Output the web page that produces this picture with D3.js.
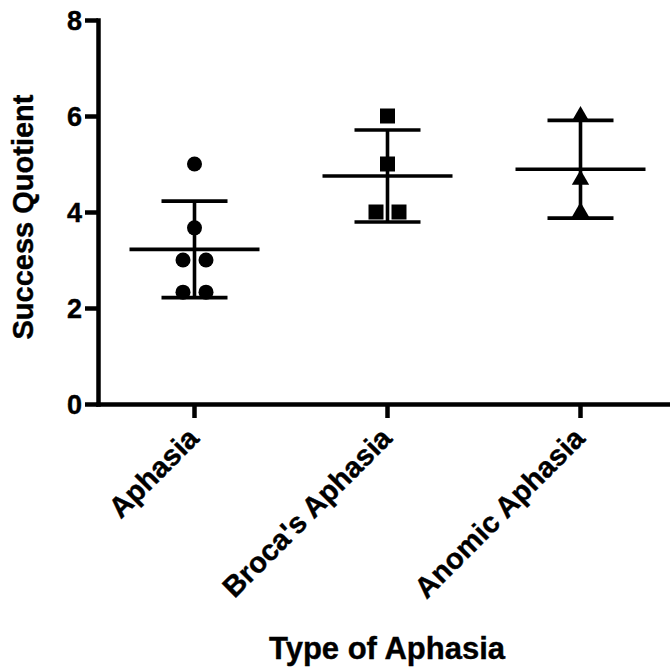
<!DOCTYPE html>
<html>
<head>
<meta charset="utf-8">
<script src="https://cdn.jsdelivr.net/npm/d3@7"></script>
<style>
  html, body { margin: 0; padding: 0; background: #fff; }
  svg { display: block; }
  text { font-family: "Liberation Sans", Arial, sans-serif; font-weight: bold; fill: #000; }
</style>
</head>
<body>
<script>
// ---- data ----
const categories = ["Aphasia", "Broca's Aphasia", "Anomic Aphasia"];
const aphasiaValues = [5.0, 3.67, 3.0, 3.0, 2.33, 2.33];
const brocaValues = [6.0, 5.0, 4.0, 4.0];
const anomicValues = [6.0, 4.67, 4.0];
const markerShapes = ["circle", "square", "triangle"];
const yTicks = [0, 2, 4, 6, 8];
const yTitle = "Success Quotient";
const xTitle = "Type of Aphasia";

const groups = [aphasiaValues, brocaValues, anomicValues];

const W = 670, H = 671;
const svg = d3.select("body").append("svg").attr("width", W).attr("height", H);

const x = d3.scaleBand().domain(categories).range([98, 677]).padding(0);
const y = d3.scaleLinear().domain([0, 8]).range([404, 20]);

// axes
const yAxis = svg.append("g").attr("transform", "translate(98,0)")
  .call(d3.axisLeft(y).tickValues(yTicks).tickSize(13).tickSizeOuter(0).tickPadding(3));
const xAxis = svg.append("g").attr("transform", "translate(0,404)")
  .call(d3.axisBottom(x).tickSize(14).tickSizeOuter(0));

[yAxis, xAxis].forEach(g => {
  g.select(".domain").attr("stroke", "#000").attr("stroke-width", 4.5).attr("stroke-linecap", "square");
  g.selectAll(".tick line").attr("stroke", "#000").attr("stroke-width", 4.5);
});
yAxis.selectAll(".tick text").attr("font-size", 27).attr("font-family", "Liberation Sans, Arial, sans-serif")
  .attr("font-weight", "bold").attr("fill", "#000").attr("dy", "0.36em")
  .attr("stroke", "#000").attr("stroke-width", 0.4);
xAxis.selectAll(".tick text").remove();

// rotated category labels
svg.append("g").selectAll("text").data(categories).join("text")
  .attr("transform", d => `translate(${x(d) + x.bandwidth() / 2 + 6},440) rotate(-45)`)
  .attr("text-anchor", "end")
  .attr("font-size", 29)
  .attr("stroke", "#000").attr("stroke-width", 0.4)
  .text(d => d);

// axis titles
svg.append("text")
  .attr("transform", `translate(33,${(y(0) + y(8)) / 2 + 5}) rotate(-90)`)
  .attr("text-anchor", "middle")
  .attr("font-size", 29)
  .attr("stroke", "#000").attr("stroke-width", 0.4)
  .text(yTitle);
svg.append("text")
  .attr("x", 387).attr("y", 659)
  .attr("text-anchor", "middle")
  .attr("font-size", 31)
  .attr("stroke", "#000").attr("stroke-width", 0.4)
  .text(xTitle);

// mean & SD
const meanHalf = 65, capHalf = 33;
groups.forEach((vals, gi) => {
  const cx = x(categories[gi]) + x.bandwidth() / 2;
  const m = d3.mean(vals), sd = d3.deviation(vals);
  const g = svg.append("g").attr("stroke", "#000").attr("stroke-width", 3.6);
  g.append("line").attr("x1", cx).attr("x2", cx).attr("y1", y(m + sd)).attr("y2", y(m - sd));
  g.append("line").attr("x1", cx - capHalf).attr("x2", cx + capHalf).attr("y1", y(m + sd)).attr("y2", y(m + sd));
  g.append("line").attr("x1", cx - capHalf).attr("x2", cx + capHalf).attr("y1", y(m - sd)).attr("y2", y(m - sd));
  g.append("line").attr("x1", cx - meanHalf).attr("x2", cx + meanHalf).attr("y1", y(m)).attr("y2", y(m));

  // points with spread for ties
  const counts = d3.rollup(vals, v => v.length, d => d);
  const seen = new Map();
  const pts = vals.map(v => {
    const k = counts.get(v);
    const i = seen.get(v) || 0;
    seen.set(v, i + 1);
    return { v, off: (i - (k - 1) / 2) * 23 };
  });
  const shape = markerShapes[gi];
  const sym = shape === "circle" ? d3.symbolCircle : shape === "square" ? d3.symbolSquare : d3.symbolTriangle;
  const size = shape === "circle" ? Math.PI * 7.5 * 7.5 : shape === "square" ? 15 * 15 : 130;
  svg.append("g").selectAll("path").data(pts).join("path")
    .attr("d", d3.symbol().type(sym).size(size))
    .attr("transform", d => `translate(${cx + d.off},${y(d.v)})`)
    .attr("fill", "#000");
});
</script>
</body>
</html>
